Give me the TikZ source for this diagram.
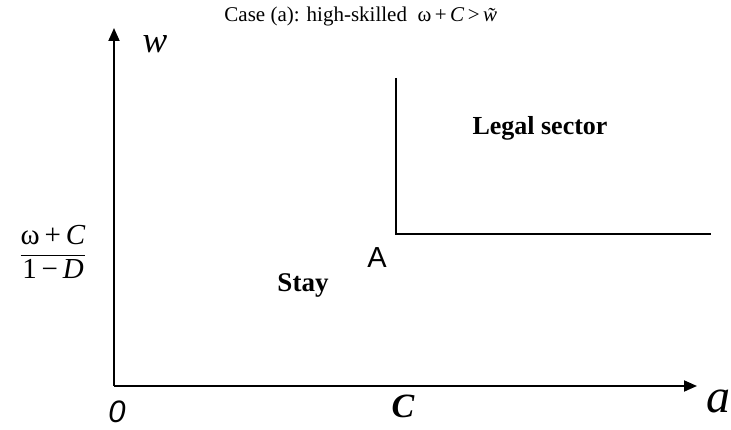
\documentclass[tikz,border=0pt]{standalone}
\usepackage{amsmath}
\usepackage{fontspec}
\setmainfont{Liberation Serif}
\setsansfont{Liberation Sans}
\usetikzlibrary{arrows.meta,positioning}
\begin{document}
\begin{tikzpicture}[x=1pt,y=1pt,
  axis/.style={line width=1.8pt,-{Triangle[length=13pt,width=11pt]}},
  bound/.style={line width=1.6pt},
  lbl/.style={inner sep=0pt,anchor=base}
]
  \useasboundingbox (0,0) rectangle (731,430);
  % axes
  \coordinate (o) at (114,44);
  \coordinate (wtop) at (114,402);
  \coordinate (aend) at (697,44);
  \draw[axis] (o)--(wtop);
  \draw[axis] (o)--(aend);
  % boundary of the legal sector
  \coordinate (top) at (396,352);
  \coordinate (A0) at (396,196);
  \coordinate (rgt) at (711,196);
  \draw[bound] (top)--(A0)--(rgt);
  % labels
  \node[lbl] (title) at (365,408) {\fontsize{21}{23}\selectfont Case (a): high-skilled \ ω\,+\,\textit{C}\,>\,\textit{w̃}};
  \node[lbl] (wlab) at (155,377) {\fontsize{37}{39}\selectfont\itshape w};
  \node[lbl] (alab) at (718,17) {\fontsize{48}{50}\selectfont\itshape a};
  \node[lbl] (zero) at (117,7) {\fontsize{31}{33}\selectfont\sffamily\itshape 0};
  \node[lbl] (clab) at (403,12) {\fontsize{34}{36}\selectfont\bfseries\itshape C};
  \node[lbl] (alabA) at (377,162) {\fontsize{29}{31}\selectfont\sffamily A};
  \node[lbl] (stay) at (303,138) {\fontsize{27}{29}\selectfont\bfseries Stay};
  \node[lbl] (legal) at (540,295) {\fontsize{26}{28}\selectfont\bfseries Legal sector};
  \node (frac) at (53,178) {\fontsize{29}{31}\selectfont $\dfrac{\text{ω\,+\,\textit{C}}}{\text{1\,−\,\textit{D}}}$};
\end{tikzpicture}
\end{document}
